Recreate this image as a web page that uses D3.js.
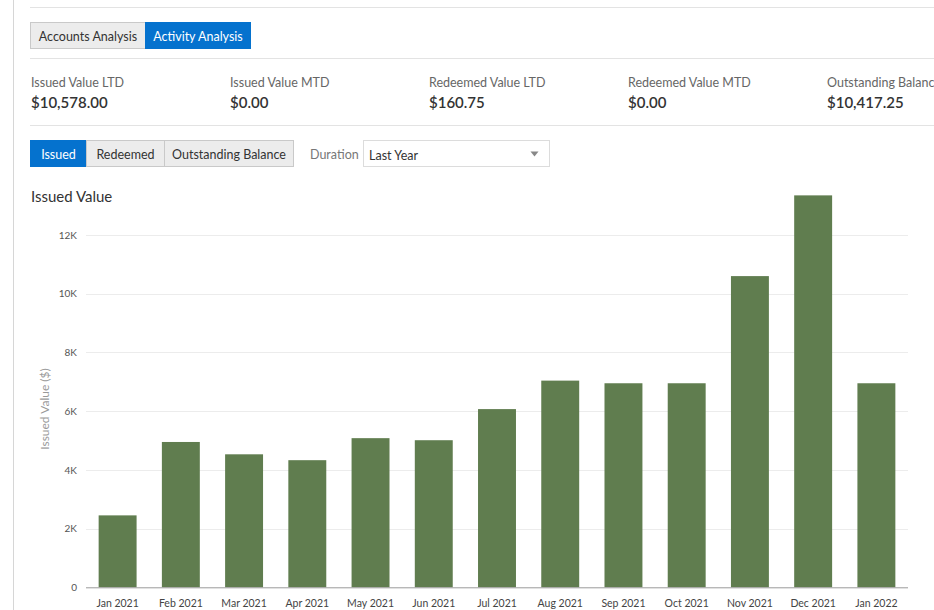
<!DOCTYPE html>
<html>
<head>
<meta charset="utf-8">
<script src="https://cdn.jsdelivr.net/npm/d3@7/dist/d3.min.js"></script>
<style>
  html, body { margin: 0; padding: 0; background: #fff; }
  body { width: 934px; height: 610px; overflow: hidden; font-family: "Segoe UI", Lato, "Open Sans", sans-serif; }
  svg text { font-family: "Segoe UI", Lato, "Open Sans", sans-serif; }
</style>
</head>
<body>
<svg id="page" width="934" height="610"></svg>
<script>
// Monthly issued value, last year
const months = ["Jan 2021", "Feb 2021", "Mar 2021", "Apr 2021", "May 2021", "Jun 2021",
  "Jul 2021", "Aug 2021", "Sep 2021", "Oct 2021", "Nov 2021", "Dec 2021", "Jan 2022"];
const issuedValues = [2450, 4950, 4530, 4330, 5080, 5010, 6070, 7040, 6950, 6950, 10600, 13350, 6950];
const yTicks = [0, 2000, 4000, 6000, 8000, 10000, 12000];
const yTickLabels = ["0", "2K", "4K", "6K", "8K", "10K", "12K"];

// Summary metrics
const metricLabels = ["Issued Value LTD", "Issued Value MTD", "Redeemed Value LTD", "Redeemed Value MTD", "Outstanding Balance"];
const metricValues = ["$10,578.00", "$0.00", "$160.75", "$0.00", "$10,417.25"];

const tabs = ["Accounts Analysis", "Activity Analysis"];
const seriesButtons = ["Issued", "Redeemed", "Outstanding Balance"];

const svg = d3.select("#page");
const BLUE = "#0572ce";
const BAR = "#607d4f";

// page frame lines
svg.append("line").attr("x1", 13.5).attr("x2", 13.5).attr("y1", 0).attr("y2", 610).attr("stroke", "#d6d6d6");
[7.5, 58.5, 125.5].forEach(y => {
  svg.append("line").attr("x1", 30).attr("x2", 934).attr("y1", y).attr("y2", y).attr("stroke", "#e3e3e3");
});

// tab bar
const tabX = [30.5, 145.5, 250.5];
tabs.forEach((t, i) => {
  const active = i === 1;
  svg.append("rect").attr("x", tabX[i]).attr("y", 22.5).attr("width", tabX[i + 1] - tabX[i]).attr("height", 26)
    .attr("fill", active ? BLUE : "#ececec").attr("stroke", active ? BLUE : "#c9c9c9");
  svg.append("text").attr("x", (tabX[i] + tabX[i + 1]) / 2).attr("y", 41).attr("text-anchor", "middle")
    .attr("font-size", 12.5).attr("fill", active ? "#fff" : "#333").text(t);
});

// metrics row
metricLabels.forEach((l, i) => {
  const x = 31 + i * 199;
  svg.append("text").attr("x", x).attr("y", 86.5).attr("font-size", 12.5).attr("fill", "#666").text(l);
  svg.append("text").attr("x", x).attr("y", 107.5).attr("font-size", 15).attr("font-weight", 600).attr("fill", "#333").text(metricValues[i]);
});

// series toggle buttons
const btnX = [30.5, 86.5, 164.5, 293.5];
seriesButtons.forEach((b, i) => {
  const active = i === 0;
  svg.append("rect").attr("x", btnX[i]).attr("y", 140.5).attr("width", btnX[i + 1] - btnX[i]).attr("height", 26)
    .attr("fill", active ? BLUE : "#ececec").attr("stroke", active ? BLUE : "#c9c9c9");
  svg.append("text").attr("x", (btnX[i] + btnX[i + 1]) / 2).attr("y", 159).attr("text-anchor", "middle")
    .attr("font-size", 12.5).attr("fill", active ? "#fff" : "#333").text(b);
});

// duration select
svg.append("text").attr("x", 310).attr("y", 159).attr("font-size", 12.5).attr("fill", "#777").text("Duration");
svg.append("rect").attr("x", 363.5).attr("y", 140.5).attr("width", 186).attr("height", 26)
  .attr("fill", "#fff").attr("stroke", "#dcdcdc");
svg.append("text").attr("x", 369).attr("y", 160).attr("font-size", 12.5).attr("fill", "#333").text("Last Year");
svg.append("path").attr("d", "M530.5,151.5 L538.5,151.5 L534.5,156.5 Z").attr("fill", "#888");

// chart title
svg.append("text").attr("x", 31).attr("y", 202).attr("font-size", 15).attr("fill", "#333").text("Issued Value");

// chart
const plot = { left: 86, right: 908, top: 187, bottom: 587.3 };
const x = d3.scaleBand().domain(months).range([plot.left, plot.right]).paddingInner(0.4).paddingOuter(0.2);
const y = d3.scaleLinear().domain([0, 12000]).range([plot.bottom, 235]);

// gridlines
svg.append("g").selectAll("line").data(yTicks.slice(1)).join("line")
  .attr("x1", plot.left).attr("x2", plot.right)
  .attr("y1", d => Math.round(y(d)) + 0.5).attr("y2", d => Math.round(y(d)) + 0.5)
  .attr("stroke", "#ececec");

// y tick labels
const yAxis = svg.append("g").attr("transform", `translate(${plot.left},0)`)
  .call(d3.axisLeft(y).tickValues(yTicks).tickFormat((d, i) => yTickLabels[i]).tickSize(0).tickPadding(9));
yAxis.select(".domain").remove();
yAxis.selectAll("text").attr("font-size", 10).attr("fill", "#555").attr("font-family", null);

// y axis title
svg.append("text").attr("transform", `translate(49,409) rotate(-90)`).attr("text-anchor", "middle")
  .attr("font-size", 12).attr("fill", "#999").text("Issued Value ($)");

// bars
svg.append("g").selectAll("rect").data(months).join("rect")
  .attr("x", d => x(d)).attr("width", x.bandwidth())
  .attr("y", (d, i) => y(issuedValues[i]))
  .attr("height", (d, i) => plot.bottom - y(issuedValues[i]))
  .attr("fill", BAR);

// x axis
const xAxis = svg.append("g").attr("transform", `translate(0,${plot.bottom})`)
  .call(d3.axisBottom(x).tickSize(0).tickPadding(12));
xAxis.select(".domain").attr("stroke", "#9a9a9a").attr("d", `M${plot.left},0.5H${plot.right}`);
xAxis.selectAll("text").attr("font-size", 10.5).attr("fill", "#444").attr("font-family", null);
</script>
</body>
</html>
